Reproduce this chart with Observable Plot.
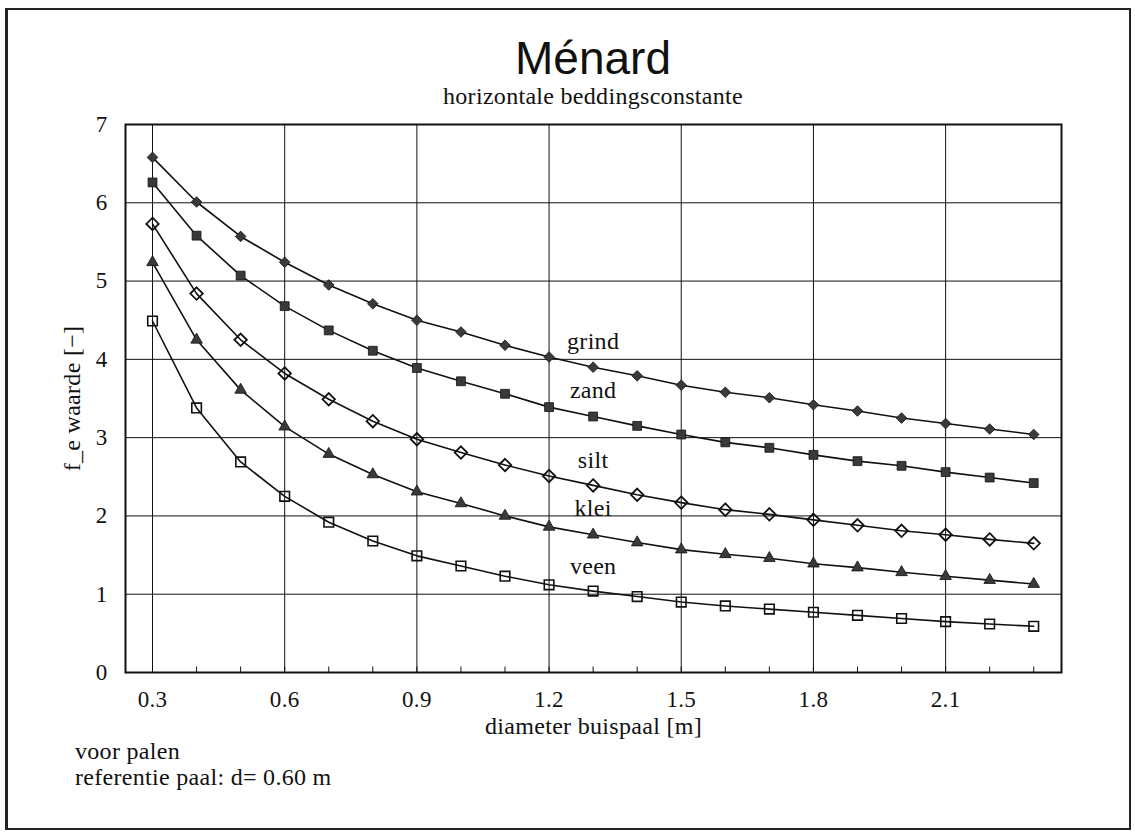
<!DOCTYPE html>
<html>
<head>
<meta charset="utf-8">
<script src="https://cdn.jsdelivr.net/npm/d3@7"></script>
<script src="https://cdn.jsdelivr.net/npm/@observablehq/plot@0.6"></script>
<style>
  html, body { margin: 0; padding: 0; background: #fff; }
  #page { position: relative; width: 1135px; height: 832px; overflow: hidden; background: #fff; }
  #border { position: absolute; left: 5px; top: 8px; width: 1121px; height: 818px; border: 2px solid #222; border-left-width: 3px; }
  .serif { font-family: "Liberation Serif", "DejaVu Serif", serif; color: #111; letter-spacing: 0.3px; }
  #title { position: absolute; left: 0; width: 1186px; top: 35px; text-align: center;
           font-family: "Liberation Sans", Arial, sans-serif; font-size: 46px; line-height: 46px; color: #111; }
  #subtitle { position: absolute; left: 0; width: 1186px; top: 84px; text-align: center;
              font-size: 24px; line-height: 24px; }
  #chart { position: absolute; left: 0; top: 110px; }
  #chart svg text { letter-spacing: 0.3px; }
  #note { position: absolute; left: 75px; top: 738px; font-size: 24px; line-height: 26px; }
</style>
</head>
<body>
<div id="page">
  <div id="border"></div>
  <div id="title"></div>
  <div id="subtitle" class="serif"></div>
  <div id="chart"></div>
  <div id="note" class="serif"></div>
</div>
<script>
// ---- texts ----
const titleText = "Ménard";
const subtitleText = "horizontale beddingsconstante";
const xLabel = "diameter buispaal [m]";
const yLabel = "f_e waarde [−]";
const noteLines = ["voor palen", "referentie paal: d= 0.60 m"];

// ---- data ----
const diameters = [0.3, 0.4, 0.5, 0.6, 0.7, 0.8, 0.9, 1.0, 1.1, 1.2, 1.3, 1.4, 1.5, 1.6, 1.7, 1.8, 1.9, 2.0, 2.1, 2.2, 2.3];
const grind = [6.58, 6.01, 5.57, 5.24, 4.95, 4.71, 4.50, 4.35, 4.18, 4.03, 3.90, 3.79, 3.67, 3.58, 3.51, 3.42, 3.34, 3.25, 3.18, 3.11, 3.04];
const zand  = [6.26, 5.58, 5.07, 4.68, 4.37, 4.11, 3.89, 3.72, 3.56, 3.39, 3.27, 3.15, 3.04, 2.94, 2.87, 2.78, 2.70, 2.64, 2.56, 2.49, 2.42];
const silt  = [5.73, 4.84, 4.25, 3.82, 3.49, 3.21, 2.98, 2.81, 2.65, 2.51, 2.39, 2.27, 2.17, 2.08, 2.02, 1.95, 1.88, 1.81, 1.76, 1.70, 1.65];
const klei  = [5.24, 4.25, 3.61, 3.14, 2.79, 2.53, 2.31, 2.16, 2.00, 1.86, 1.76, 1.66, 1.57, 1.51, 1.46, 1.39, 1.34, 1.28, 1.23, 1.18, 1.13];
const veen  = [4.49, 3.38, 2.69, 2.25, 1.92, 1.68, 1.49, 1.36, 1.23, 1.12, 1.04, 0.97, 0.90, 0.85, 0.81, 0.77, 0.73, 0.69, 0.65, 0.62, 0.59];

// series labels placed on the chart
const labelNames = ["grind", "zand", "silt", "klei", "veen"];
const labelX = [1.3, 1.3, 1.3, 1.3, 1.3];
const labelY = [4.13, 3.51, 2.61, 2.00, 1.26];

// ticks
const xTicks = [0.3, 0.6, 0.9, 1.2, 1.5, 1.8, 2.1];
const yTicks = [0, 1, 2, 3, 4, 5, 6, 7];
const yGrid = [1, 2, 3, 4, 5, 6];

// ---- build table ----
const seriesList = [
  {name: "grind", values: grind},
  {name: "zand", values: zand},
  {name: "silt", values: silt},
  {name: "klei", values: klei},
  {name: "veen", values: veen}
];
const rows = seriesList.flatMap(s => diameters.map((d, i) => ({d, v: s.values[i], soil: s.name})));
const labels = labelNames.map((n, i) => ({name: n, x: labelX[i], y: labelY[i]}));
const of = name => rows.filter(r => r.soil === name);

document.getElementById("title").textContent = titleText;
document.getElementById("subtitle").textContent = subtitleText;
document.getElementById("note").innerHTML = noteLines.map(t => `<div>${t}</div>`).join("");

const serif = '"Liberation Serif", "DejaVu Serif", serif';
const ink = "#111";
const fillInk = "#3a3a3a";

const chart = Plot.plot({
  width: 1135,
  height: 640,
  marginTop: 14,
  marginBottom: 78,
  marginLeft: 125,
  marginRight: 74,
  style: {fontFamily: serif, fontSize: "23px", color: ink, background: "transparent"},
  x: {domain: [0.2387, 2.363]},
  y: {domain: [0, 7]},
  marks: [
    Plot.gridX(xTicks, {stroke: ink, strokeOpacity: 1, strokeWidth: 1}),
    Plot.gridY(yGrid, {stroke: ink, strokeOpacity: 1, strokeWidth: 1}),
    Plot.ruleX(diameters, {y1: 0, y2: 0.07, stroke: ink, strokeWidth: 1}),
    Plot.axisX({ticks: xTicks, tickSize: 0, tickPadding: 18, tickFormat: d3.format(".1f"), label: null, fontSize: 23}),
    Plot.axisY({ticks: yTicks, tickSize: 0, tickPadding: 18, tickFormat: d3.format("d"), label: null, fontSize: 23}),
    Plot.lineY(rows, {x: "d", y: "v", z: "soil", stroke: ink, strokeWidth: 1.6}),
    Plot.dot(of("grind"), {x: "d", y: "v", symbol: "diamond2", r: 4.8, fill: fillInk, stroke: ink, strokeWidth: 0.8}),
    Plot.dot(of("zand"), {x: "d", y: "v", symbol: "square", r: 5, fill: fillInk, stroke: ink, strokeWidth: 0.8}),
    Plot.dot(of("silt"), {x: "d", y: "v", symbol: "diamond2", r: 5.6, fill: "none", stroke: ink, strokeWidth: 1.8}),
    Plot.dot(of("klei"), {x: "d", y: "v", symbol: "triangle", r: 4.3, fill: fillInk, stroke: ink, strokeWidth: 0.8}),
    Plot.dot(of("veen"), {x: "d", y: "v", symbol: "square", r: 5.4, fill: "none", stroke: ink, strokeWidth: 1.6}),
    Plot.text(labels, {x: "x", y: "y", text: "name", lineAnchor: "bottom", fontSize: 24, fill: ink}),
    Plot.text([xLabel], {frameAnchor: "bottom", textAnchor: "middle", lineAnchor: "bottom", dy: 61, fontSize: 24, fill: ink}),
    Plot.text([yLabel], {frameAnchor: "left", textAnchor: "middle", rotate: -90, lineAnchor: "bottom", dx: -46, fontSize: 24, fill: ink}),
    Plot.frame({stroke: ink, strokeWidth: 2})
  ]
});
document.getElementById("chart").appendChild(chart);
</script>
</body>
</html>
